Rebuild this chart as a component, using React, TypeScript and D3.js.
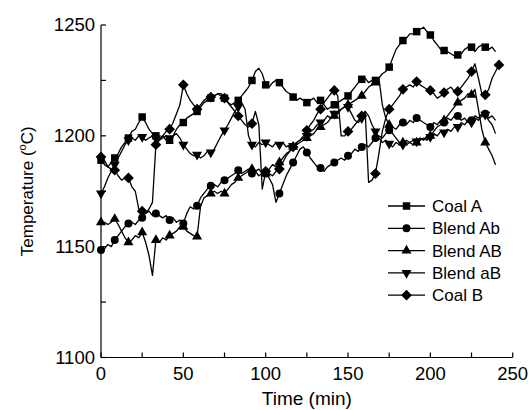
import React from "react";
import * as d3 from "d3";

const TIME_STEP = 25 / 12; // minutes between samples
const MARKER_EVERY = 4;

const coalA = [
  1189, 1187, 1186, 1188, 1190, 1192, 1195, 1197, 1199, 1202, 1203, 1206, 1208.5, 1206, 1203, 1201,
  1200, 1199, 1200, 1198, 1198, 1200, 1203, 1205, 1206, 1208, 1209, 1210, 1211, 1213, 1215, 1216,
  1217, 1218, 1219, 1218, 1217, 1215, 1214, 1215, 1216, 1218, 1220, 1222, 1225, 1229, 1230.5, 1228,
  1223, 1222, 1224, 1225, 1224, 1222, 1220, 1219, 1217.5, 1216, 1217, 1216, 1215, 1216, 1217, 1215,
  1216, 1214, 1212, 1213, 1214, 1215, 1216, 1217, 1218, 1220, 1222, 1224, 1225.5, 1226, 1224, 1225,
  1225, 1226, 1228, 1229, 1231, 1235, 1239, 1241, 1243, 1244, 1246, 1246, 1247, 1248, 1249, 1247,
  1245.5, 1243, 1241, 1239, 1238.5, 1238, 1237, 1236, 1236.5, 1237, 1239, 1240, 1240, 1238, 1240, 1241,
  1240, 1239, 1240, 1238,
];

const blendAb = [
  1148.5, 1149, 1151, 1150, 1153, 1155, 1157, 1159, 1160.5, 1161, 1160, 1162, 1163, 1165, 1166, 1164,
  1165, 1164, 1163, 1164, 1162, 1163, 1161, 1162, 1160.5, 1165, 1168, 1167, 1168.5, 1172, 1174, 1176,
  1177.5, 1178, 1177, 1179, 1180, 1181, 1182, 1183, 1184.5, 1183, 1184, 1185, 1183, 1184, 1182, 1183,
  1183, 1181, 1178, 1170, 1174, 1178, 1182, 1185, 1188, 1191, 1194, 1195, 1192.5, 1190, 1188, 1186,
  1185.5, 1184, 1186, 1187, 1188, 1189, 1190, 1189, 1191, 1192, 1194, 1193, 1195, 1196, 1195, 1197,
  1199, 1200, 1199, 1201, 1202.5, 1204, 1203, 1205, 1206, 1205, 1207, 1206, 1208, 1207, 1206, 1205,
  1204, 1206, 1205, 1207, 1206, 1208, 1207, 1209, 1209, 1207, 1208, 1206, 1207, 1209, 1208, 1210,
  1210, 1208, 1209, 1207,
];

const blendAB = [
  1161, 1161, 1160, 1161, 1162.5, 1160, 1157, 1154, 1152, 1153, 1155, 1154, 1156.5, 1152, 1146, 1137,
  1153, 1152, 1154, 1153, 1155, 1156, 1157, 1159, 1159, 1157, 1156, 1155, 1154.5, 1168, 1172, 1173,
  1174, 1175, 1174, 1175, 1174, 1176, 1178, 1179, 1181, 1182, 1183, 1184, 1185, 1184, 1185, 1183,
  1183, 1185, 1187, 1186, 1188, 1190, 1192, 1193, 1195, 1196, 1197, 1198, 1199, 1200, 1201, 1203,
  1204, 1205, 1206, 1208, 1209, 1210, 1212, 1213, 1214, 1215, 1216, 1217, 1218, 1220, 1222, 1223,
  1224, 1226, 1214, 1208, 1205, 1201, 1199, 1197, 1197, 1196, 1197, 1196, 1197, 1198, 1199, 1198,
  1200, 1202, 1204, 1205, 1207, 1209, 1211, 1213, 1215, 1216, 1217, 1219, 1218.5, 1221, 1212, 1203,
  1197, 1194, 1191, 1187,
];

const blendaB = [
  1174, 1177, 1181, 1184, 1187, 1190, 1193, 1196, 1198, 1199, 1198, 1200, 1199.5, 1198, 1199, 1200,
  1199, 1198, 1199, 1200, 1199, 1200, 1201, 1199, 1196, 1194, 1192, 1191, 1191.5, 1190, 1191, 1193,
  1192.5, 1194, 1197, 1200, 1202.5, 1205, 1208, 1211, 1213, 1215, 1212, 1200, 1196, 1195, 1197, 1196,
  1197, 1196, 1195, 1197, 1196, 1197, 1195, 1196, 1195.5, 1197, 1198, 1199, 1200, 1202, 1203, 1205,
  1206, 1207, 1209, 1208, 1210, 1211, 1212, 1213, 1213, 1210, 1207, 1206, 1208, 1211, 1209, 1205,
  1202, 1199, 1197, 1198, 1196.5, 1195, 1197, 1196, 1196, 1198, 1197, 1198, 1197.5, 1199, 1198, 1200,
  1199.5, 1201, 1200, 1202, 1201.5, 1203, 1202, 1204, 1204, 1206, 1205, 1207, 1206, 1208, 1207, 1209,
  1209.5, 1207, 1205, 1201,
];

const coalB = [
  1190.5, 1189, 1186, 1185, 1184.5, 1182, 1180, 1181, 1181, 1177, 1175, 1167, 1166, 1165, 1167, 1170,
  1196, 1198, 1200, 1202, 1203, 1206, 1210, 1214, 1223, 1219, 1216, 1214, 1212, 1214, 1216, 1217,
  1217.5, 1218, 1219, 1219, 1217, 1215, 1213, 1211, 1209, 1207, 1205, 1204, 1205.5, 1211, 1205, 1176,
  1184, 1183, 1182, 1184, 1185, 1188, 1191, 1193, 1195, 1197, 1198, 1200, 1202.5, 1205, 1207, 1210,
  1212, 1215, 1217, 1219, 1220.5, 1218, 1200, 1200, 1202, 1203, 1205, 1207, 1209, 1211, 1179, 1180,
  1183, 1192, 1202, 1208, 1212, 1214, 1216, 1218, 1221, 1222, 1223, 1222, 1224.5, 1223, 1222, 1221,
  1220.5, 1219, 1217, 1218, 1219.5, 1221, 1222, 1220, 1220, 1222, 1224, 1226, 1229, 1232.5, 1226, 1219,
  1218.5, 1221, 1226, 1229, 1232,
];

const seriesNames = ["Coal A", "Blend Ab", "Blend AB", "Blend aB", "Coal B"];
const seriesValues = [coalA, blendAb, blendAB, blendaB, coalB];
const xTicks = [0, 25, 50, 75, 100, 125, 150, 175, 200, 225, 250];
const xTickLabels = ["0", "", "50", "", "100", "", "150", "", "200", "", "250"];
const yTicks = [1100, 1125, 1150, 1175, 1200, 1225, 1250];
const yTickLabels = ["1100", "", "1150", "", "1200", "", "1250"];

const FONT = "'Liberation Sans', Arial, Helvetica, sans-serif";

const symbolDefs = [
  { type: d3.symbolSquare, size: 56, rotate: 0 },
  { type: d3.symbolCircle, size: 50, rotate: 0 },
  { type: d3.symbolTriangle, size: 44, rotate: 0 },
  { type: d3.symbolTriangle, size: 44, rotate: 180 },
  { type: d3.symbolSquare, size: 58, rotate: 45 },
];

export default function App() {
  const W = 532, H = 410;
  const x = d3.scaleLinear().domain([0, 250]).range([101, 512.7]);
  const y = d3.scaleLinear().domain([1100, 1250]).range([357.5, 25]);
  const line = d3
    .line<[number, number]>()
    .x((d) => x(d[0]))
    .y((d) => y(d[1]));

  const tickLen = 5;
  const legendX0 = 388, legendX1 = 425, legendTextX = 432;
  const legendY0 = 206, legendStep = 22.3;

  return (
    <svg
      width={W}
      height={H}
      style={{ position: "absolute", left: 0, top: 0, background: "#fff" }}
      fontFamily={FONT}
    >
      <rect x={0} y={0} width={W} height={H} fill="#fff" />
      {seriesValues.map((vals, si) => {
        const pts: [number, number][] = vals.map((v, i) => [i * TIME_STEP, v]);
        const sym = symbolDefs[si];
        const path = d3.symbol().type(sym.type).size(sym.size)() as string;
        return (
          <g key={seriesNames[si]}>
            <path d={line(pts) as string} fill="none" stroke="#000" strokeWidth={1.3} strokeLinejoin="round" />
            {pts
              .filter((_, i) => i % MARKER_EVERY === 0)
              .map((p, k) => (
                <path
                  key={k}
                  d={path}
                  transform={`translate(${x(p[0])},${y(p[1])}) rotate(${sym.rotate})`}
                  fill="#000"
                />
              ))}
          </g>
        );
      })}

      <g stroke="#000" strokeWidth={1.2} fill="none">
        <line x1={x(0)} x2={x(0)} y1={y(1250)} y2={y(1100)} />
        <line x1={x(0)} x2={x(250)} y1={y(1100)} y2={y(1100)} />
        {xTicks.map((t) => (
          <line key={"xt" + t} x1={x(t)} x2={x(t)} y1={y(1100)} y2={y(1100) - tickLen} />
        ))}
        {yTicks.map((t) => (
          <line key={"yt" + t} x1={x(0)} x2={x(0) + tickLen} y1={y(t)} y2={y(t)} />
        ))}
      </g>
      <g fontSize={18.5} fill="#000">
        {xTicks.map((t, i) =>
          xTickLabels[i] ? (
            <text key={"xl" + t} x={x(t)} y={380} textAnchor="middle">
              {xTickLabels[i]}
            </text>
          ) : null
        )}
        {yTicks.map((t, i) =>
          yTickLabels[i] ? (
            <text key={"yl" + t} x={95} y={y(t)} dy="0.35em" textAnchor="end">
              {yTickLabels[i]}
            </text>
          ) : null
        )}
      </g>
      <text x={(x(0) + x(250)) / 2} y={405} fontSize={19} textAnchor="middle" fill="#000">
        Time (min)
      </text>
      <text
        transform={`translate(33,${(y(1100) + y(1250)) / 2}) rotate(-90)`}
        fontSize={17}
        textAnchor="middle"
        fill="#000"
      >
        Temperature (<tspan fontSize={11} dy={-7}>o</tspan>
        <tspan dy={7}>C)</tspan>
      </text>

      {seriesNames.map((name, si) => {
        const ly = legendY0 + si * legendStep;
        const sym = symbolDefs[si];
        const path = d3.symbol().type(sym.type).size(sym.size)() as string;
        return (
          <g key={"lg" + name}>
            <line x1={legendX0} x2={legendX1} y1={ly} y2={ly} stroke="#000" strokeWidth={1.3} />
            <path
              d={path}
              transform={`translate(${(legendX0 + legendX1) / 2},${ly}) rotate(${sym.rotate})`}
              fill="#000"
            />
            <text x={legendTextX} y={ly} dy="0.35em" fontSize={17} fill="#000">
              {name}
            </text>
          </g>
        );
      })}
    </svg>
  );
}
